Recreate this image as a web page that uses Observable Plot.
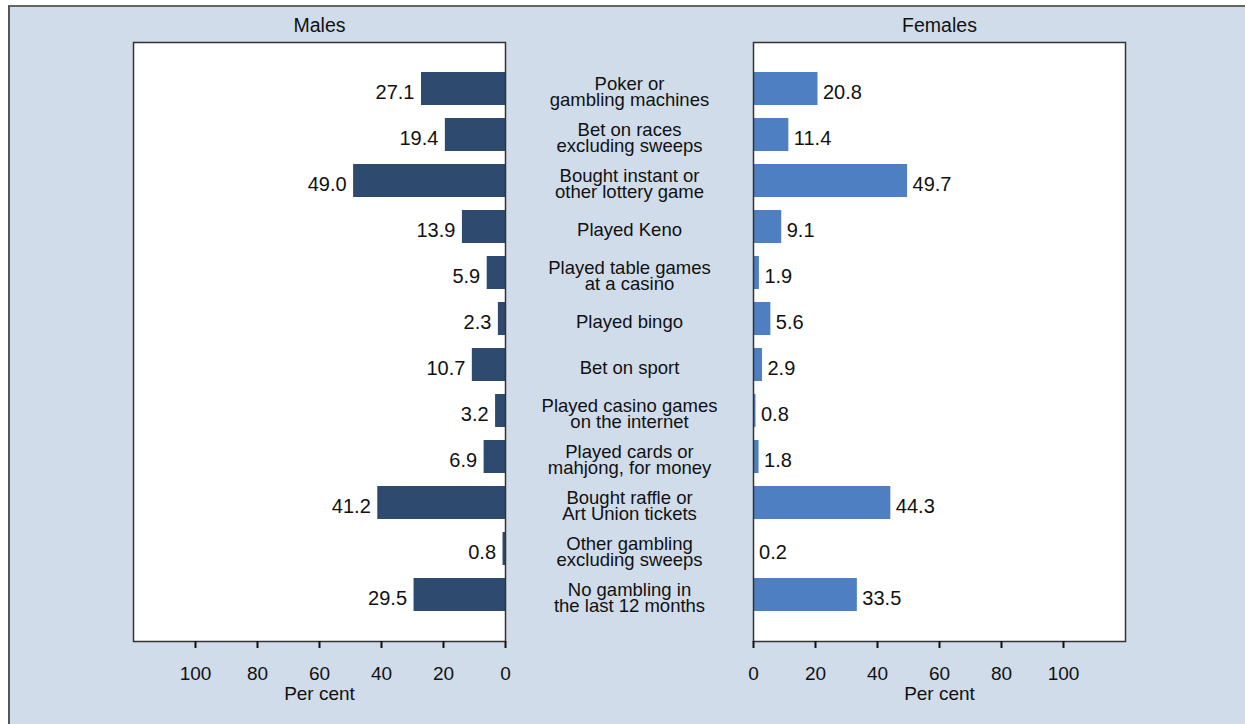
<!DOCTYPE html>
<html>
<head>
<meta charset="utf-8">
<script src="https://cdn.jsdelivr.net/npm/d3@7"></script>
<script src="https://cdn.jsdelivr.net/npm/@observablehq/plot@0.6"></script>
<style>
  html, body { margin: 0; padding: 0; background: #ffffff; }
  #wrap { position: relative; width: 1245px; height: 724px; overflow: hidden; background: #ffffff; }
  #bg { position: absolute; left: 8px; top: 5px; width: 1260px; height: 740px; background: #d0dcea;
        border-left: 2px solid #555; border-top: 2px solid #666; box-sizing: border-box; }
  #wrap svg { position: absolute; left: 0; top: 0; }
</style>
</head>
<body>
<div id="wrap"><div id="bg"></div></div>
<script>
const categories = [
  "Poker or\ngambling machines",
  "Bet on races\nexcluding sweeps",
  "Bought instant or\nother lottery game",
  "Played Keno",
  "Played table games\nat a casino",
  "Played bingo",
  "Bet on sport",
  "Played casino games\non the internet",
  "Played cards or\nmahjong, for money",
  "Bought raffle or\nArt Union tickets",
  "Other gambling\nexcluding sweeps",
  "No gambling in\nthe last 12 months"
];
const males   = [27.1, 19.4, 49.0, 13.9, 5.9, 2.3, 10.7, 3.2, 6.9, 41.2, 0.8, 29.5];
const females = [20.8, 11.4, 49.7, 9.1, 1.9, 5.6, 2.9, 0.8, 1.8, 44.3, 0.2, 33.5];
const xTicks = [0, 20, 40, 60, 80, 100];
const panelTitles = ["Males", "Females"];
const axisTitle = "Per cent";

const maleColor = "#2e4a6f";
const femaleColor = "#4d7fc2";
const FONT = "'Liberation Sans', Arial, Helvetica, sans-serif";
const FS = 18.5;     // category labels
const FSV = 20;      // value labels
const FST = 19.5;    // panel titles
const FSA = 19;      // axis tick labels / axis title

const rowsM = categories.map((c, i) => ({cat: c, v: males[i]}));
const rowsF = categories.map((c, i) => ({cat: c, v: females[i]}));

const common = {
  width: 1245, height: 724,
  marginTop: 42, marginBottom: 83,
  style: {background: "transparent", fontFamily: FONT, fontSize: FS + "px", color: "#111", overflow: "visible"},
  y: {domain: categories, paddingInner: 0.283, paddingOuter: 0.645, axis: null}
};

function panel(rows, color, reverse, title, extraMarks, margins) {
  return Plot.plot({
    ...common,
    ...margins,
    x: {domain: [0, 120], reverse, axis: null},
    marks: [
      Plot.frame({fill: "white", stroke: null}),
      Plot.barX(rows, {x: "v", y: "cat", fill: color}),
      Plot.frame({stroke: "#333", strokeWidth: 1.5, fill: null}),
      Plot.text(rows, {
        x: "v", y: "cat", text: d => d.v.toFixed(1),
        textAnchor: reverse ? "end" : "start", dx: reverse ? -7 : 5, dy: 4,
        fontSize: FSV, fill: "#111"
      }),
      Plot.axisX({ticks: xTicks, tickSize: 7, tickPadding: 18, strokeWidth: 2, stroke: "#111",
        label: null, fontSize: FSA, fill: "#111"}),
      Plot.text([axisTitle], {frameAnchor: "bottom", lineAnchor: "middle", dy: 52, fontSize: FSA, fill: "#111"}),
      Plot.text([title], {frameAnchor: "top", lineAnchor: "middle", dy: -16.5, fontSize: FST, fill: "#111"}),
      ...extraMarks
    ]
  });
}

const left = panel(rowsM, maleColor, true, panelTitles[0], [
  Plot.text(categories, {x: () => -40, y: d => d, text: d => d, lineHeight: 0.85, dy: 4,
    fontSize: FS, fill: "#111"})
], {marginLeft: 133, marginRight: 740});

const right = panel(rowsF, femaleColor, false, panelTitles[1], [], {marginLeft: 753, marginRight: 120});

const wrap = document.getElementById("wrap");
wrap.appendChild(left);
wrap.appendChild(right);
</script>
</body>
</html>
